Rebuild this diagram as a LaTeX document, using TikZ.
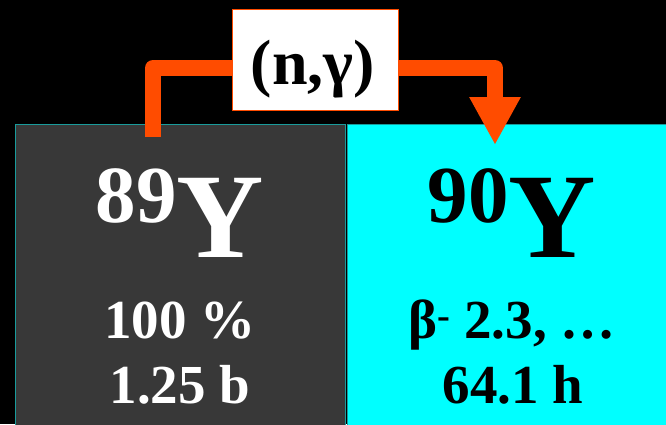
\documentclass[tikz,border=0pt]{standalone}
\usepackage{fontspec}
\setmainfont{Liberation Serif}
\usetikzlibrary{arrows.meta}
\definecolor{cellgray}{RGB}{56,56,56}
\definecolor{cellcyan}{RGB}{0,255,255}
\definecolor{celledge}{RGB}{25,155,155}
\definecolor{rxn}{RGB}{255,76,0}
\begin{document}
\begin{tikzpicture}[x=1pt,y=1pt,
  every node/.style={font=\bfseries},
  cell/.style={draw=celledge,line width=1pt,anchor=south west,inner sep=0pt,minimum width=330pt,minimum height=305pt},
  nuclide/.style={anchor=base,inner sep=0pt},
  info/.style={anchor=base,inner sep=0pt,font=\bfseries\fontsize{55}{65}\selectfont}]
\clip (0,0) rectangle (666,424);
\fill[black] (0,0) rectangle (666,424);
% chart cells
\node[cell,fill=cellgray] (y89) at (15,-6) {};
\node[cell,fill=cellcyan] (y90) at (347,-6) {};
\node[nuclide,text=white] (y89n) at (180,167) {\raisebox{35pt}{\fontsize{81}{81}\selectfont 89}\fontsize{121}{121}\selectfont Y};
\node[nuclide,text=black] (y90n) at (512,167) {\raisebox{35pt}{\fontsize{81}{81}\selectfont 90}\fontsize{121}{121}\selectfont Y};
\node[info,text=white] (y89a) at (180,86) {100 \%};
\node[info,text=white] (y89b) at (180,21) {1.25 b};
\node[info,text=black] (y90a) at (512,86) {β\textsuperscript{-} 2.3, …};
\node[info,text=black] (y90b) at (513,21) {64.1 h};
% capture arrow
\coordinate (src) at (153,287);
\coordinate (dst) at (495,279);
\draw[rxn,line width=16pt,line join=round,-{Triangle[width=48pt,length=48pt]}] (src) -- (153,356) -| (dst);
\node[draw=rxn,fill=white,line width=1pt,minimum width=166pt,minimum height=100pt] (lbl) at (315,364) {};
\node[anchor=base,inner sep=0pt,font=\bfseries\fontsize{64}{64}\selectfont] (ng) at (313,339) {(n,γ)};
\end{tikzpicture}
\end{document}
